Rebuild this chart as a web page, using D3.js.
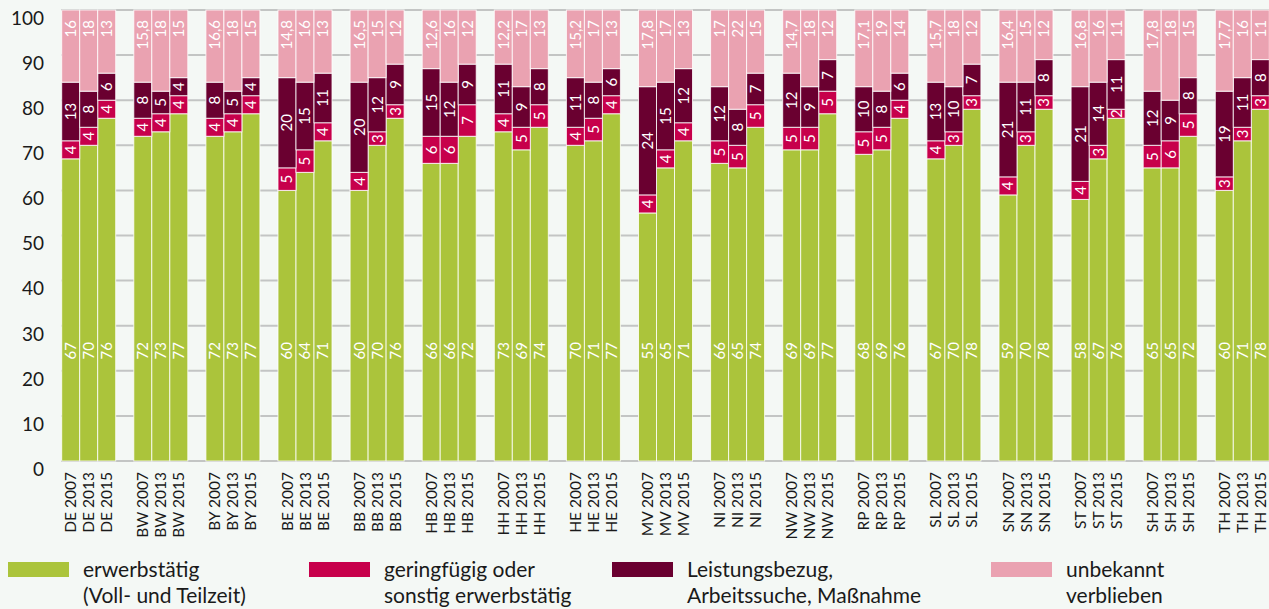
<!DOCTYPE html>
<html>
<head>
<meta charset="utf-8">
<script src="https://cdn.jsdelivr.net/npm/d3@7"></script>
<style>
  body { margin: 0; background: #f4f8f5; }
  svg { display: block; font-family: Lato, "Open Sans", sans-serif; }
</style>
</head>
<body>
<div id="chart"></div>
<script>
// Laender und Jahre
const regions = ['DE','BW','BY','BE','BB','HB','HH','HE','MV','NI','NW','RP','SL','SN','ST','SH','TH'];
const years = ['2007','2013','2015'];

// Werte je Land und Jahr (Reihenfolge: Land, dann 2007/2013/2015)
const erwerbstaetig = [67,70,76, 72,73,77, 72,73,77, 60,64,71, 60,70,76, 66,66,72, 73,69,74, 70,71,77,
                       55,65,71, 66,65,74, 69,69,77, 68,69,76, 67,70,78, 59,70,78, 58,67,76, 65,65,72, 60,71,78];
const geringfuegig  = [4,4,4, 4,4,4, 4,4,4, 5,5,4, 4,3,3, 6,6,7, 4,5,5, 4,5,4,
                       4,4,4, 5,5,5, 5,5,5, 5,5,4, 4,3,3, 4,3,3, 4,3,2, 5,6,5, 3,3,3];
const leistung      = [13,8,6, 8,5,4, 8,5,4, 20,15,11, 20,12,9, 15,12,9, 11,9,8, 11,8,6,
                       24,15,12, 12,8,7, 12,9,7, 10,8,6, 13,10,7, 21,11,8, 21,14,11, 12,9,8, 19,11,8];
const unbekannt     = [16,18,13, 15.8,18,15, 16.6,18,15, 14.8,16,13, 16.5,15,12, 12.6,16,12, 12.2,17,13, 15.2,17,13,
                       17.8,17,13, 17,22,15, 14.7,18,12, 17.1,19,14, 15.7,18,12, 16.4,15,12, 16.8,16,11, 17.8,18,15, 17.7,16,11];

const seriesKeys = ['erw','ger','lei','unb'];
const colors = {erw: '#abc43b', ger: '#c7004b', lei: '#6a0030', unb: '#eaa2b1'};
const legendLines = [
  ['erwerbstätig', '(Voll- und Teilzeit)'],
  ['geringfügig oder', 'sonstig erwerbstätig'],
  ['Leistungsbezug,', 'Arbeitssuche, Maßnahme'],
  ['unbekannt', 'verblieben']
];

const width = 1269, height = 609;

const svg = d3.select('#chart').append('svg')
  .attr('width', width)
  .attr('height', height);

svg.append('rect').attr('width', width).attr('height', height).attr('fill', '#f4f8f5');

// rows for the stack
const rows = [];
regions.forEach((r, i) => {
  years.forEach((yr, j) => {
    const k = i * 3 + j;
    rows.push({region: r, year: yr, erw: erwerbstaetig[k], ger: geringfuegig[k], lei: leistung[k], unb: unbekannt[k]});
  });
});

const stacked = d3.stack().keys(seriesKeys)(rows);

// scales
const x0 = d3.scaleBand().domain(regions).range([61.7, 1269.3]).paddingInner(0.251).paddingOuter(0);
const x1 = d3.scaleBand().domain(years).range([0, x0.bandwidth()]).padding(0);
const y = d3.scaleLinear().domain([0, 100]).range([461, 10]);

// gridlines
svg.append('g').selectAll('line')
  .data(y.ticks(10))
  .enter()
  .append('line')
  .attr('x1', 61)
  .attr('x2', width)
  .attr('y1', d => y(d))
  .attr('y2', d => y(d))
  .attr('stroke', '#c3c5c4')
  .attr('stroke-width', 2);

// y labels (sitting a bit below the lines like in the original)
svg.append('g').selectAll('text')
  .data(y.ticks(10))
  .enter()
  .append('text')
  .attr('x', 44)
  .attr('y', d => y(d) + 10)
  .attr('text-anchor', 'end')
  .attr('dominant-baseline', 'middle')
  .style('font-size', '19px')
  .attr('fill', '#1a1a1a')
  .text(d => d);

// bars - shares add up to 100 %, the last segment closes the bar (rounded labels)
const cap = v => Math.min(v, 100);
const upper = (key, d) => key === 'unb' ? 100 : cap(d[1]);

const layers = svg.append('g').selectAll('g')
  .data(stacked)
  .enter()
  .append('g')
  .attr('fill', d => colors[d.key]);

layers.each(function(layer) {
  d3.select(this).selectAll('rect')
    .data(layer)
    .enter()
    .append('rect')
    .attr('x', d => x0(d.data.region) + x1(d.data.year))
    .attr('width', x1.bandwidth())
    .attr('y', d => y(upper(layer.key, d)))
    .attr('height', d => y(cap(d[0])) - y(upper(layer.key, d)))
    .attr('stroke', '#ffffff')
    .attr('stroke-opacity', 0.8)
    .attr('stroke-width', 1);
});

// value labels
const fmt = v => String(v).replace('.', ',');
stacked.forEach(layer => {
  svg.append('g').selectAll('text')
    .data(layer)
    .enter()
    .append('text')
    .attr('transform', d => {
      const cx = x0(d.data.region) + x1(d.data.year) + x1.bandwidth() / 2;
      let cy;
      if (layer.key === 'unb') cy = y(100) + 10;
      else if (layer.key === 'erw') cy = 342;
      else cy = (y(cap(d[0])) + y(cap(d[1]))) / 2;
      return 'translate(' + cx + ',' + cy + ') rotate(-90)';
    })
    .attr('text-anchor', () => layer.key === 'unb' || layer.key === 'erw' ? 'end' : 'middle')
    .attr('dy', '0.36em')
    .attr('fill', '#ffffff')
    .style('font-size', '15px')
    .text(d => fmt(d.data[layer.key]));
});

// x labels
svg.append('g').selectAll('text')
  .data(rows)
  .enter()
  .append('text')
  .attr('transform', d => 'translate(' + (x0(d.region) + x1(d.year) + x1.bandwidth() / 2) + ',472) rotate(-90)')
  .attr('text-anchor', 'end')
  .attr('dy', '0.36em')
  .attr('fill', '#1a1a1a')
  .style('font-size', '15.5px')
  .text(d => d.region + ' ' + d.year);

// legend
const legendX = [8, 309, 612, 991];
const legend = svg.append('g').selectAll('g')
  .data(seriesKeys)
  .enter()
  .append('g')
  .attr('transform', (d, i) => 'translate(' + legendX[i] + ',562)');

legend.append('rect')
  .attr('width', 61)
  .attr('height', 15)
  .attr('fill', d => colors[d]);

legend.each(function(d, i) {
  const t = d3.select(this).append('text')
    .attr('x', 75)
    .attr('fill', '#1a1a1a')
    .style('font-size', '21px');
  legendLines[i].forEach((line, j) => {
    t.append('tspan').attr('x', 75).attr('y', 8 + j * 26).attr('dy', '0.35em').text(line);
  });
});
</script>
</body>
</html>
